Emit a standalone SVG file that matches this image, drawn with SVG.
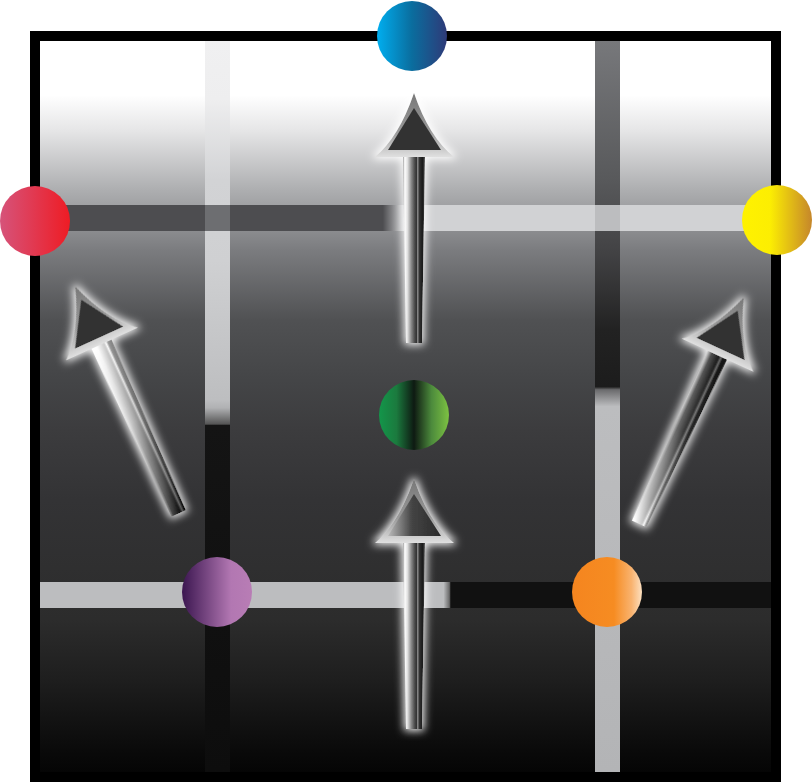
<svg xmlns="http://www.w3.org/2000/svg" width="812" height="783" viewBox="0 0 812 783">
<style>
.frame{stroke:#000;stroke-width:10}
.node{stroke:none}
</style>
<defs>
<linearGradient id="bg" gradientUnits="userSpaceOnUse" x1="0" y1="41" x2="0" y2="772">
<stop offset="0" stop-color="#ffffff"/>
<stop offset="0.074" stop-color="#ffffff"/>
<stop offset="0.122" stop-color="#e6e6e7"/>
<stop offset="0.204" stop-color="#adaeb0"/>
<stop offset="0.286" stop-color="#7b7c7f"/>
<stop offset="0.382" stop-color="#505153"/>
<stop offset="0.464" stop-color="#444547"/>
<stop offset="0.532" stop-color="#3c3c3e"/>
<stop offset="0.628" stop-color="#333335"/>
<stop offset="0.792" stop-color="#2c2c2c"/>
<stop offset="0.874" stop-color="#1e1e1e"/>
<stop offset="0.970" stop-color="#0a0a0a"/>
<stop offset="1" stop-color="#050505"/>
</linearGradient>
<linearGradient id="vLeft" gradientUnits="userSpaceOnUse" x1="0" y1="41" x2="0" y2="772">
<stop offset="0" stop-color="#f0f0f1"/>
<stop offset="0.08" stop-color="#eeeeef"/>
<stop offset="0.19" stop-color="#d2d3d5"/>
<stop offset="0.30" stop-color="#cfd0d2"/>
<stop offset="0.491" stop-color="#bdbec0"/>
<stop offset="0.502" stop-color="#b0b1b3"/>
<stop offset="0.524" stop-color="#555"/>
<stop offset="0.526" stop-color="#141414"/>
<stop offset="1" stop-color="#0d0d0d"/>
</linearGradient>
<linearGradient id="vRight" gradientUnits="userSpaceOnUse" x1="0" y1="41" x2="0" y2="772">
<stop offset="0" stop-color="#77787b"/>
<stop offset="0.19" stop-color="#58595b"/>
<stop offset="0.286" stop-color="#434345"/>
<stop offset="0.395" stop-color="#222"/>
<stop offset="0.473" stop-color="#1c1c1c"/>
<stop offset="0.477" stop-color="#6a6a6c"/>
<stop offset="0.50" stop-color="#bcbdbf"/>
<stop offset="1" stop-color="#b3b4b6"/>
</linearGradient>
<linearGradient id="hTop" gradientUnits="userSpaceOnUse" x1="40" y1="0" x2="771" y2="0">
<stop offset="0" stop-color="#4d4d50"/>
<stop offset="0.469" stop-color="#4d4d50"/>
<stop offset="0.499" stop-color="#d1d2d4"/>
<stop offset="1" stop-color="#d1d2d4"/>
</linearGradient>
<linearGradient id="hBot" gradientUnits="userSpaceOnUse" x1="40" y1="0" x2="771" y2="0">
<stop offset="0" stop-color="#bcbdbf"/>
<stop offset="0.552" stop-color="#bcbdbf"/>
<stop offset="0.560" stop-color="#6a6a6a"/>
<stop offset="0.562" stop-color="#111"/>
<stop offset="1" stop-color="#111"/>
</linearGradient>
<linearGradient id="cBlue" x1="0" y1="0" x2="1" y2="0">
<stop offset="0" stop-color="#00aeef"/>
<stop offset="0.5" stop-color="#0a6d9e"/>
<stop offset="1" stop-color="#2e3a78"/>
</linearGradient>
<linearGradient id="cRed" x1="0" y1="0" x2="1" y2="0">
<stop offset="0" stop-color="#d6537a"/>
<stop offset="1" stop-color="#ee1c24"/>
</linearGradient>
<linearGradient id="cYellow" x1="0" y1="0" x2="1" y2="0">
<stop offset="0" stop-color="#fff200"/>
<stop offset="0.4" stop-color="#fcee02"/>
<stop offset="1" stop-color="#c5862b"/>
</linearGradient>
<linearGradient id="cGreen" x1="0" y1="0" x2="1" y2="0">
<stop offset="0" stop-color="#13964a"/>
<stop offset="0.25" stop-color="#1b7a3e"/>
<stop offset="0.5" stop-color="#0e1a12"/>
<stop offset="0.75" stop-color="#4c8a3c"/>
<stop offset="1" stop-color="#7dc242"/>
</linearGradient>
<linearGradient id="cPurple" x1="0" y1="0" x2="1" y2="0">
<stop offset="0" stop-color="#3b1650"/>
<stop offset="0.7" stop-color="#b277b2"/>
<stop offset="1" stop-color="#b87db5"/>
</linearGradient>
<linearGradient id="cOrange" x1="0" y1="0" x2="1" y2="0">
<stop offset="0" stop-color="#f5851f"/>
<stop offset="0.6" stop-color="#f68c22"/>
<stop offset="0.85" stop-color="#f9b36f"/>
<stop offset="1" stop-color="#fde0c0"/>
</linearGradient>
<linearGradient id="shaft" x1="0" y1="0" x2="1" y2="0">
<stop offset="0" stop-color="#999"/>
<stop offset="0.08" stop-color="#fff"/>
<stop offset="0.2" stop-color="#e2e2e2"/>
<stop offset="0.38" stop-color="#888"/>
<stop offset="0.55" stop-color="#444"/>
<stop offset="0.62" stop-color="#333"/>
<stop offset="0.67" stop-color="#999"/>
<stop offset="0.73" stop-color="#333"/>
<stop offset="0.9" stop-color="#1a1a1a"/>
<stop offset="1" stop-color="#555"/>
</linearGradient>
<linearGradient id="alongL" gradientUnits="userSpaceOnUse" x1="0" y1="64" x2="0" y2="250">
<stop offset="0" stop-color="#fff"/>
<stop offset="0.45" stop-color="#bbb"/>
<stop offset="0.85" stop-color="#444"/>
<stop offset="1" stop-color="#111"/>
</linearGradient>
<linearGradient id="alongR" gradientUnits="userSpaceOnUse" x1="0" y1="64" x2="0" y2="250">
<stop offset="0" stop-color="#222"/>
<stop offset="0.45" stop-color="#444"/>
<stop offset="0.85" stop-color="#bbb"/>
<stop offset="1" stop-color="#fff"/>
</linearGradient>
<linearGradient id="acrossOv" x1="0" y1="0" x2="1" y2="0">
<stop offset="0" stop-color="#fff" stop-opacity="0.9"/>
<stop offset="0.25" stop-color="#fff" stop-opacity="0.2"/>
<stop offset="0.6" stop-color="#000" stop-opacity="0.2"/>
<stop offset="0.7" stop-color="#fff" stop-opacity="0.3"/>
<stop offset="0.8" stop-color="#000" stop-opacity="0.4"/>
<stop offset="1" stop-color="#000" stop-opacity="0.5"/>
</linearGradient>
<linearGradient id="headOuter" x1="0" y1="0" x2="0" y2="1">
<stop offset="0" stop-color="#777"/>
<stop offset="0.6" stop-color="#999"/>
<stop offset="1" stop-color="#e0e0e0"/>
</linearGradient>
<linearGradient id="headInnerG" x1="0" y1="0" x2="1" y2="0">
<stop offset="0" stop-color="#bbb"/>
<stop offset="0.45" stop-color="#444"/>
<stop offset="1" stop-color="#2a2a2a"/>
</linearGradient>
<filter id="glow" x="-60%" y="-20%" width="220%" height="140%">
<feMorphology in="SourceAlpha" operator="dilate" radius="2" result="d"/>
<feGaussianBlur in="d" stdDeviation="4.5" result="b"/>
<feFlood flood-color="#ffffff" flood-opacity="0.95"/>
<feComposite in2="b" operator="in" result="g"/>
<feMerge><feMergeNode in="g"/><feMergeNode in="SourceGraphic"/></feMerge>
</filter>
<path id="outerHead" d="M0,0 Q-15,44 -39,64 L40,64 Q15,44 0,0 Z" fill="url(#headOuter)"/>
<polygon id="shaftShape" points="-11,64 11,64 8,250 -8,250"/>
</defs>

<g id="background">
<rect class="frame" x="35" y="36" width="741" height="741" fill="url(#bg)"/>
<rect x="205" y="41" width="25" height="731" fill="url(#vLeft)"/>
<rect x="595" y="41" width="25" height="731" fill="url(#vRight)"/>
<rect x="40" y="205" width="731" height="26" fill="url(#hTop)"/>
<rect x="40" y="582" width="731" height="26" fill="url(#hBot)"/>
<rect x="205" y="205" width="25" height="26" fill="#6d6e71"/>
<rect x="595" y="205" width="25" height="26" fill="#bcbdbf"/>
</g>

<g id="connectors">
<g id="arrow-top" transform="translate(414,93)" filter="url(#glow)">
<use href="#outerHead"/>
<polygon points="0,15 -26,57 27,57" fill="#333"/>
<use href="#shaftShape" fill="url(#shaft)"/>
</g>
<g id="arrow-bottom" transform="translate(414,479)" filter="url(#glow)">
<use href="#outerHead"/>
<polygon points="0,15 -26,57 27,57" fill="url(#headInnerG)"/>
<use href="#shaftShape" fill="url(#shaft)"/>
</g>
<g id="arrow-left" transform="translate(75,286) rotate(-24.5)" filter="url(#glow)">
<use href="#outerHead"/>
<polygon points="0,15 -26,57 27,57" fill="#333"/>
<use href="#shaftShape" fill="url(#alongL)"/>
<use href="#shaftShape" fill="url(#acrossOv)"/>
</g>
<g id="arrow-right" transform="translate(744,297) rotate(24.8)" filter="url(#glow)">
<use href="#outerHead"/>
<polygon points="0,15 -26,57 27,57" fill="#333"/>
<use href="#shaftShape" fill="url(#alongR)"/>
<use href="#shaftShape" fill="url(#acrossOv)"/>
</g>
</g>

<g id="node-blue"><circle class="node" cx="412" cy="36" r="35" fill="url(#cBlue)"/></g>
<g id="node-red"><circle class="node" cx="35" cy="221" r="35" fill="url(#cRed)"/></g>
<g id="node-yellow"><circle class="node" cx="777" cy="220" r="35" fill="url(#cYellow)"/></g>
<g id="node-green"><circle class="node" cx="414" cy="415" r="35" fill="url(#cGreen)"/></g>
<g id="node-purple"><circle class="node" cx="217" cy="592" r="35" fill="url(#cPurple)"/></g>
<g id="node-orange"><circle class="node" cx="607" cy="592" r="35" fill="url(#cOrange)"/></g>
</svg>
